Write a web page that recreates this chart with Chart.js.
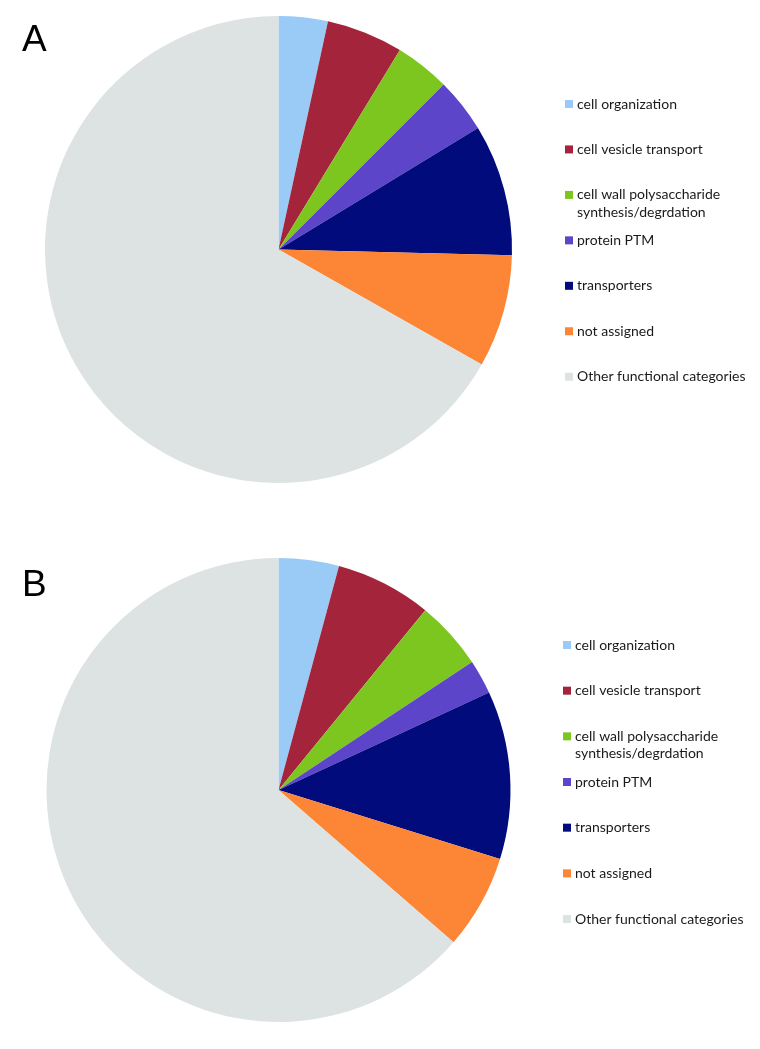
<!DOCTYPE html>
<html>
<head>
<meta charset="utf-8">
<script src="https://cdn.jsdelivr.net/npm/chart.js@4.4.1/dist/chart.umd.min.js"></script>
<style>
  html, body { margin: 0; padding: 0; background: #ffffff; }
  body { width: 760px; height: 1049px; position: relative; overflow: hidden; }
  .wrap { position: absolute; left: 0; width: 760px; }
  #wa { top: 0; height: 525px; }
  #wb { top: 525px; height: 524px; }
  canvas { display: block; }
</style>
</head>
<body>
<div class="wrap" id="wa"><canvas id="chartA"></canvas></div>
<div class="wrap" id="wb"><canvas id="chartB"></canvas></div>
<script>
// ---- data ----
const categories = [
  'cell organization',
  'cell vesicle transport',
  ['cell wall polysaccharide', 'synthesis/degrdation'],
  'protein PTM',
  'transporters',
  'not assigned',
  'Other functional categories'
];
const valuesA = [3.4, 5.3, 3.8, 3.8, 9.1, 7.8, 66.8];
const valuesB = [4.2, 6.7, 4.8, 2.4, 11.7, 6.6, 63.6];
const panelLabels = ['A', 'B'];
const sliceColors = ['#9ACBF7', '#A3243B', '#7DC620', '#5C45C9', '#010B7C', '#FD8636', '#DCE3E2'];

// ---- custom legend + panel letter plugin ----
const sideLegend = {
  id: 'sideLegend',
  afterDraw(chart, args, opts) {
    const ctx = chart.ctx;
    const ds = chart.data.datasets[0];
    ctx.save();
    // panel letter
    ctx.fillStyle = '#000000';
    ctx.font = '37px "Liberation Sans", Arial, sans-serif';
    ctx.textBaseline = 'alphabetic';
    ctx.textAlign = 'left';
    ctx.fillText(opts.letter, opts.letterX, opts.letterY);
    // legend items
    ctx.font = '14px Lato, "Open Sans", sans-serif';
    ctx.textBaseline = 'middle';
    chart.data.labels.forEach((lab, i) => {
      const cy = opts.startY + i * opts.step;
      ctx.fillStyle = ds.backgroundColor[i];
      ctx.fillRect(opts.boxX, cy - 4, 8, 8);
      ctx.fillStyle = '#1a1a1a';
      const lines = Array.isArray(lab) ? lab : [lab];
      lines.forEach((ln, k) => {
        ctx.fillText(ln, opts.textX, cy + k * 17.5);
      });
    });
    ctx.restore();
  }
};

function makeChart(id, values, letter, pad, legendOpts) {
  return new Chart(document.getElementById(id), {
    type: 'pie',
    data: {
      labels: categories,
      datasets: [{
        data: values,
        backgroundColor: sliceColors,
        borderWidth: 0
      }]
    },
    options: {
      responsive: true,
      maintainAspectRatio: false,
      animation: false,
      layout: { padding: pad },
      plugins: {
        legend: { display: false },
        tooltip: { enabled: false },
        sideLegend: Object.assign({ letter: letter }, legendOpts)
      }
    },
    plugins: [sideLegend]
  });
}

makeChart('chartA', valuesA, panelLabels[0],
  { left: 45, right: 248, top: 16, bottom: 42 },
  { letterX: 22, letterY: 51, startY: 104, step: 45.45, boxX: 565, textX: 577 });

makeChart('chartB', valuesB, panelLabels[1],
  { left: 46.5, right: 249.5, top: 33, bottom: 27 },
  { letterX: 22, letterY: 71, startY: 120, step: 45.67, boxX: 563, textX: 575 });
</script>
</body>
</html>
